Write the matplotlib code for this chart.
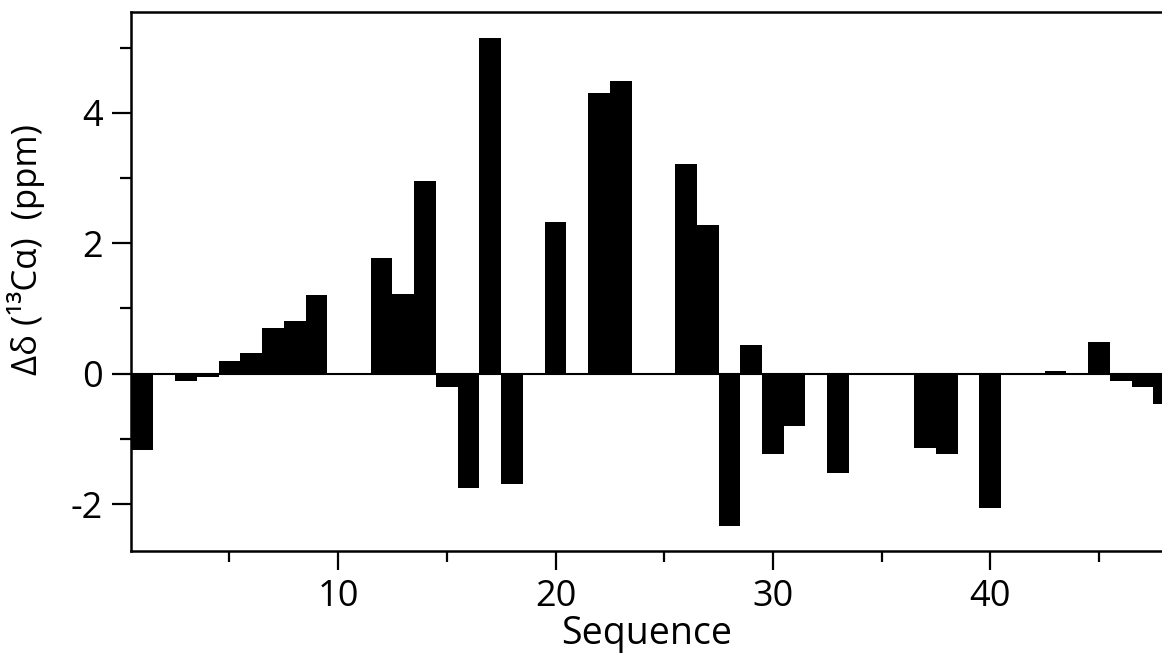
import numpy as np
import matplotlib
matplotlib.use('Agg')
import matplotlib.pyplot as plt
from matplotlib.ticker import MultipleLocator

plt.rcParams['font.family'] = ['Open Sans', 'DejaVu Sans']
plt.rcParams['axes.unicode_minus'] = False

# residue number and chemical shift difference (ppm), 0 = no bar
residues = np.arange(1, 49)
shifts = [-1.17, 0.0, -0.12, -0.06, 0.20, 0.32, 0.70, 0.80, 1.20, 0.0,
          0.0, 1.78, 1.22, 2.96, -0.21, -1.76, 5.14, -1.70, 0.0, 2.33,
          0.0, 4.31, 4.49, 0.0, 0.0, 3.21, 2.28, -2.33, 0.44, -1.23,
          -0.81, 0.0, -1.53, 0.0, 0.0, 0.0, -1.14, -1.24, 0.0, -2.06,
          0.0, 0.0, 0.04, 0.0, 0.48, -0.11, -0.20, -0.47]

fig = plt.figure(figsize=(11.62, 6.63), dpi=100)
ax = fig.add_axes([0.1127, 0.169, 0.8873, 0.8124])

ax.bar(residues, shifts, width=1.0, color='black', edgecolor='none')
ax.axhline(0, color='black', lw=1.5)

ax.set_xlim(0.47, 47.9)
ax.set_ylim(-2.72, 5.54)

ax.xaxis.set_major_locator(MultipleLocator(10))
ax.xaxis.set_minor_locator(MultipleLocator(5))
ax.yaxis.set_major_locator(MultipleLocator(2))
ax.yaxis.set_minor_locator(MultipleLocator(1))
ax.tick_params(which='major', direction='out', length=14, width=1.6, labelsize=26, pad=6)
ax.tick_params(which='minor', direction='out', length=8, width=1.6)

for s in ['left', 'bottom', 'top']:
    ax.spines[s].set_linewidth(1.8)
ax.spines['right'].set_visible(False)

ax.set_xlabel('Sequence', fontsize=27, labelpad=0)
ax.set_ylabel('Δδ (¹³Cα)  (ppm)', fontsize=25)
ax.yaxis.set_label_coords(-0.083, 0.56)

fig.savefig('out.png', dpi=100)
